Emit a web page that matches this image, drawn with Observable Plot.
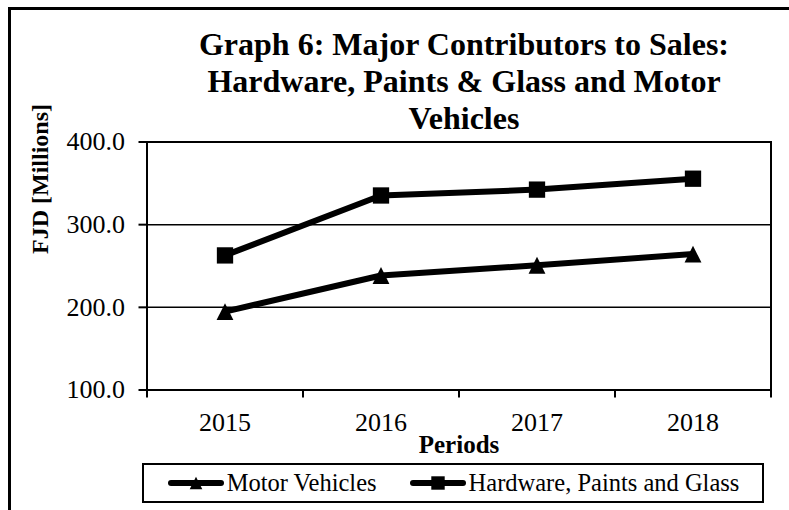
<!DOCTYPE html>
<html>
<head>
<meta charset="utf-8">
<script src="https://cdn.jsdelivr.net/npm/d3@7"></script>
<script src="https://cdn.jsdelivr.net/npm/@observablehq/plot@0.6"></script>
<style>
  html, body { margin: 0; padding: 0; overflow: hidden; background: #fff; width: 789px; height: 510px; }
  #border { position: absolute; left: 8px; top: 7px; width: 900px; height: 700px; border-left: 3px solid #000; border-top: 3px solid #000; box-sizing: border-box; }
  #wrap { position: absolute; left: 0; top: 0; width: 789px; font-family: "Liberation Serif", "Times New Roman", serif; color: #000; }
  #title { margin-left: 146px; width: 636px; height: 133px; box-sizing: border-box; padding-top: 26px; text-align: center; font-weight: bold; font-size: 32px; line-height: 37px; }
  #chart svg { display: block; }
  #legend { margin-left: 142px; margin-top: 3px; width: 622px; height: 40px; box-sizing: border-box; border: 2px solid #000; display: flex; justify-content: center; align-items: center; gap: 32px; font-size: 24.5px; }
  .item { display: flex; align-items: center; gap: 2px; }
  .item svg { display: block; }
</style>
</head>
<body>
<div id="border"></div>
<div id="wrap">
  <div id="title">Graph 6: Major Contributors to Sales:<br>Hardware, Paints &amp; Glass and Motor<br>Vehicles</div>
  <div id="chart"></div>
  <div id="legend"></div>
</div>
<script>
// ---- data ----
const years = [2015, 2016, 2017, 2018];
const motorVehicles = [194.8, 238.5, 250.9, 264.4];
const hardwarePaintsGlass = [262.8, 335.3, 342.4, 355.6];
const seriesNames = ["Motor Vehicles", "Hardware, Paints and Glass"];
const yTicks = [100, 200, 300, 400];
const yLabel = "FJD [Millions]";
const xLabel = "Periods";

// ---- build table ----
const rows = [];
years.forEach((yr, i) => {
  rows.push({ year: yr, value: motorVehicles[i], series: seriesNames[0] });
  rows.push({ year: yr, value: hardwarePaintsGlass[i], series: seriesNames[1] });
});
const bounds = [years[0] - 0.5, ...years.map(y => y + 0.5)];

const triangle = {
  draw(ctx, size) {
    const h = Math.sqrt(size) / 2;
    ctx.moveTo(0, -h); ctx.lineTo(h, h); ctx.lineTo(-h, h); ctx.closePath();
  }
};
const square = {
  draw(ctx, size) {
    const h = Math.sqrt(size) / 2;
    ctx.moveTo(-h, -h); ctx.lineTo(h, -h); ctx.lineTo(h, h); ctx.lineTo(-h, h); ctx.closePath();
  }
};

const plot = Plot.plot({
  width: 789,
  height: 327,
  marginLeft: 146.5,
  marginRight: 18.5,
  marginTop: 8.5,
  marginBottom: 70.5,
  style: { fontFamily: "Liberation Serif, Times New Roman, serif", color: "#000", background: "transparent", overflow: "visible" },
  x: { type: "linear", domain: [bounds[0], bounds[bounds.length - 1]], axis: null },
  y: { domain: [yTicks[0], yTicks[yTicks.length - 1]], axis: null },
  marks: [
    Plot.gridY(yTicks.slice(1, -1), { stroke: "#000", strokeOpacity: 1, strokeWidth: 1.5 }),
    Plot.frame({ stroke: "#000", strokeWidth: 2 }),
    Plot.axisY(yTicks, { tickSize: 8, tickPadding: 14, tickFormat: d => d.toFixed(1), fontSize: 26, strokeWidth: 2, label: null }),
    Plot.axisX(bounds, { tickSize: 8, tickFormat: () => "", strokeWidth: 2, label: null }),
    Plot.axisX(years, { tickSize: 0, tickPadding: 23, tickFormat: d => String(d), fontSize: 26, label: null }),
    Plot.text([xLabel], { frameAnchor: "bottom", dy: 54.5, fontSize: 25, fontWeight: "bold", lineAnchor: "middle" }),
    Plot.text([yLabel], { frameAnchor: "left", dx: -107, dy: -12, rotate: -90, fontSize: 24, fontWeight: "bold" }),
    Plot.line(rows, { x: "year", y: "value", z: "series", stroke: "#000", strokeWidth: 6, strokeLinecap: "round", strokeLinejoin: "round" }),
    Plot.dot(rows.filter(d => d.series === seriesNames[0]), { x: "year", y: "value", symbol: triangle, r: 9.5, fill: "#000", stroke: "none" }),
    Plot.dot(rows.filter(d => d.series === seriesNames[1]), { x: "year", y: "value", symbol: square, r: 9.2, fill: "#000", stroke: "none" })
  ]
});
document.getElementById("chart").appendChild(plot);

// ---- legend ----
const legend = d3.select("#legend");
[[seriesNames[0], triangle, 160], [seriesNames[1], square, 180]].forEach(([name, sym, size]) => {
  const item = legend.append("div").attr("class", "item");
  const s = item.append("svg").attr("width", 58).attr("height", 20);
  s.append("line").attr("x1", 4).attr("x2", 54).attr("y1", 10).attr("y2", 10)
    .attr("stroke", "#000").attr("stroke-width", 6).attr("stroke-linecap", "round");
  s.append("path").attr("transform", "translate(29,10)").attr("d", d3.symbol(sym, size)()).attr("fill", "#000");
  item.append("span").text(name);
});
</script>
</body>
</html>
